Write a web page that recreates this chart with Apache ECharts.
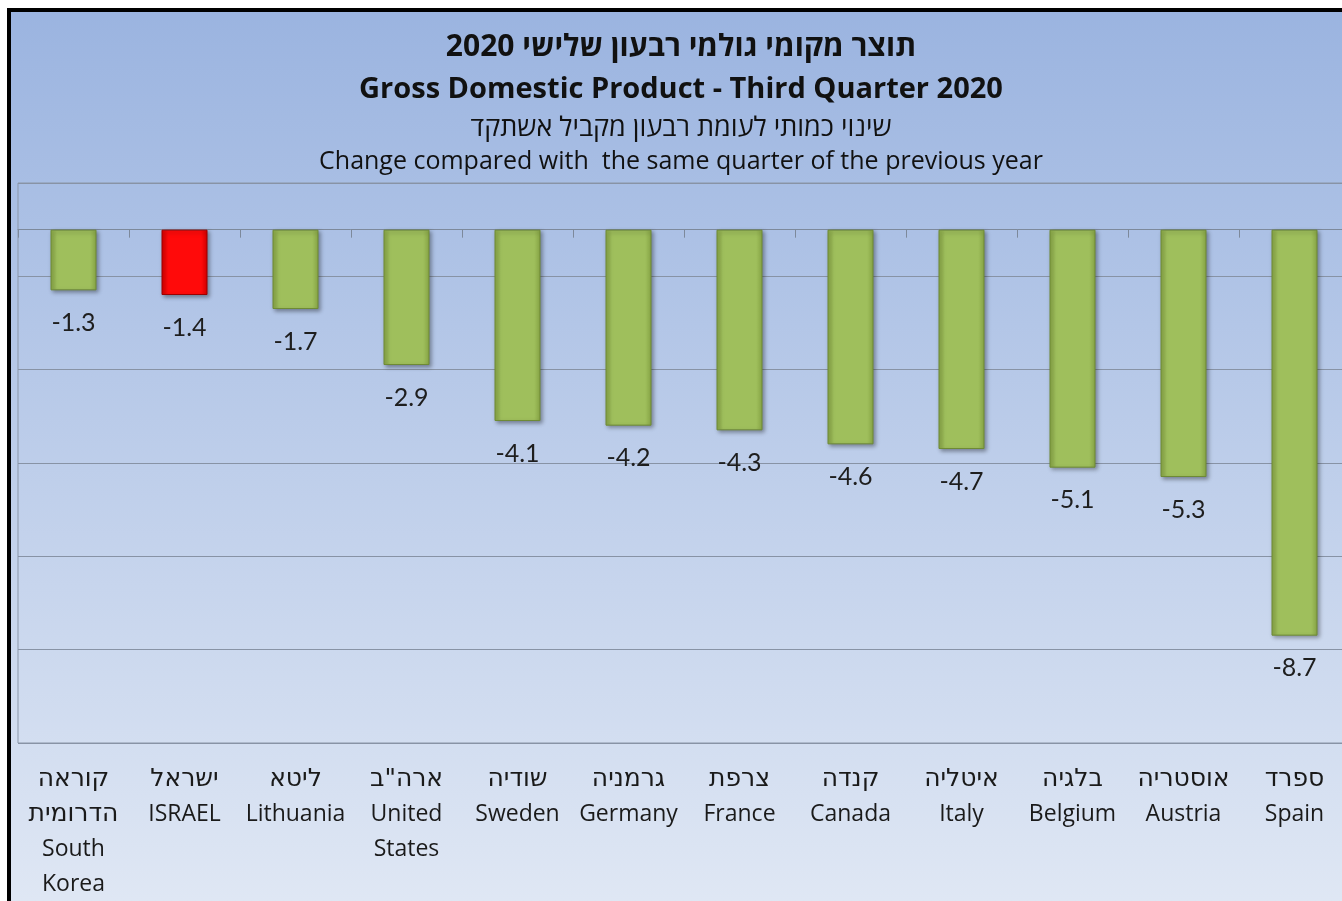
<!DOCTYPE html>
<html>
<head>
<meta charset="utf-8">
<script src="https://cdn.jsdelivr.net/npm/echarts@6/dist/echarts.min.js"></script>
<style>
  html, body { margin: 0; background: #fff; overflow: hidden; }
  #frame { position: absolute; left: 7px; top: 8px; border-top: 4px solid #000; border-left: 4px solid #000; }
  #main { width: 1340px; height: 889px; }
</style>
</head>
<body>
<div id="frame"><div id="main"></div></div>
<script>
// categories (Hebrew name + English name)
var countries = [
  'קוראה\nהדרומית\nSouth\nKorea',
  'ישראל\nISRAEL',
  'ליטא\nLithuania',
  'ארה"ב\nUnited\nStates',
  'שודיה\nSweden',
  'גרמניה\nGermany',
  'צרפת\nFrance',
  'קנדה\nCanada',
  'איטליה\nItaly',
  'בלגיה\nBelgium',
  'אוסטריה\nAustria',
  'ספרד\nSpain'
];
// change vs same quarter of previous year (%)
var gdpChange = [-1.3, -1.4, -1.7, -2.9, -4.1, -4.2, -4.3, -4.6, -4.7, -5.1, -5.3, -8.7];
var highlightCountry = 'ISRAEL';

var titleLines = [
  'תוצר מקומי גולמי רבעון שלישי 2020',
  'Gross Domestic Product - Third Quarter 2020',
  'שינוי כמותי לעומת רבעון מקביל אשתקד',
  'Change compared with  the same quarter of the previous year'
];

var myChart = echarts.init(document.getElementById('main'));

function barGrad(edge, mid) {
  return new echarts.graphic.LinearGradient(0, 0, 1, 0, [
    { offset: 0, color: edge },
    { offset: 0.14, color: mid },
    { offset: 0.86, color: mid },
    { offset: 1, color: edge }
  ]);
}

var barData = gdpChange.map(function (v, i) {
  var isHl = countries[i].indexOf(highlightCountry) >= 0;
  return {
    value: v,
    itemStyle: isHl
      ? { color: barGrad('#d40000', '#ff0a0a'), borderColor: '#9c0000' }
      : { color: barGrad('#88a646', '#9fbf5c'), borderColor: '#6e8a35' }
  };
});

// hebrew lines get a slightly bigger style than latin ones
function catLabel(v) {
  return v.split('\n').map(function (s) {
    return /[\u0590-\u05ff]/.test(s) ? '{he|' + s + '}' : '{en|' + s + '}';
  }).join('\n');
}

var option = {
  animation: false,
  backgroundColor: new echarts.graphic.LinearGradient(0, 0, 0, 1, [
    { offset: 0, color: '#9bb4e0' },
    { offset: 1, color: '#dfe7f4' }
  ]),
  title: [
    { text: titleLines[0], left: 'center', top: 19, padding: 0,
      textStyle: { fontSize: 30, fontWeight: 'bold', lineHeight: 32, color: '#111', fontFamily: 'Open Sans, DejaVu Sans' } },
    { text: titleLines[1], left: 'center', top: 62, padding: 0,
      textStyle: { fontSize: 29, fontWeight: 'bold', lineHeight: 32, color: '#111', fontFamily: 'Open Sans' } },
    { text: titleLines[2], left: 'center', top: 101, padding: 0,
      textStyle: { fontSize: 27, fontWeight: 'normal', lineHeight: 30, color: '#111', fontFamily: 'Open Sans, DejaVu Sans' } },
    { text: titleLines[3], left: 'center', top: 135, padding: 0,
      textStyle: { fontSize: 25, fontWeight: 'normal', lineHeight: 30, color: '#111', fontFamily: 'Open Sans' } }
  ],
  grid: {
    left: 7, right: 1, top: 171, bottom: 158,
    show: true, borderColor: '#8b97a9', borderWidth: 1, backgroundColor: 'transparent'
  },
  xAxis: [
    {
      type: 'category', data: countries, position: 'top',
      axisLine: { onZero: true, lineStyle: { color: '#7d899b', width: 1 } },
      axisTick: { show: true, inside: true, length: 8, lineStyle: { color: '#7d899b' } },
      axisLabel: { show: false },
      splitLine: { show: false }
    },
    {
      type: 'category', data: countries, position: 'bottom',
      axisLine: { show: false, onZero: false },
      axisTick: { show: false },
      axisLabel: {
        interval: 0, margin: 19, color: '#1a1a1a', align: 'center', verticalAlign: 'top',
        formatter: catLabel,
        rich: {
          he: { fontSize: 25, lineHeight: 35, fontFamily: 'DejaVu Sans', color: '#1a1a1a' },
          en: { fontSize: 23, lineHeight: 35, fontFamily: 'Open Sans', color: '#1a1a1a' }
        }
      }
    }
  ],
  yAxis: {
    type: 'value', min: -11, max: 1, interval: 2,
    axisLine: { show: false }, axisTick: { show: false }, axisLabel: { show: false },
    splitLine: { lineStyle: { color: '#8893a5', width: 1 } }
  },
  series: [{
    type: 'bar',
    xAxisIndex: 0,
    data: barData,
    barWidth: 46,
    itemStyle: {
      borderWidth: 1,
      shadowColor: 'rgba(0,0,0,0.35)', shadowBlur: 4, shadowOffsetX: 2, shadowOffsetY: 2
    },
    label: {
      show: true, position: 'bottom', distance: 20,
      fontSize: 25, color: '#1e1e1e', fontFamily: 'Lato',
      formatter: function (p) { return p.value.toFixed(1); }
    }
  }]
};

myChart.setOption(option);
</script>
</body>
</html>
